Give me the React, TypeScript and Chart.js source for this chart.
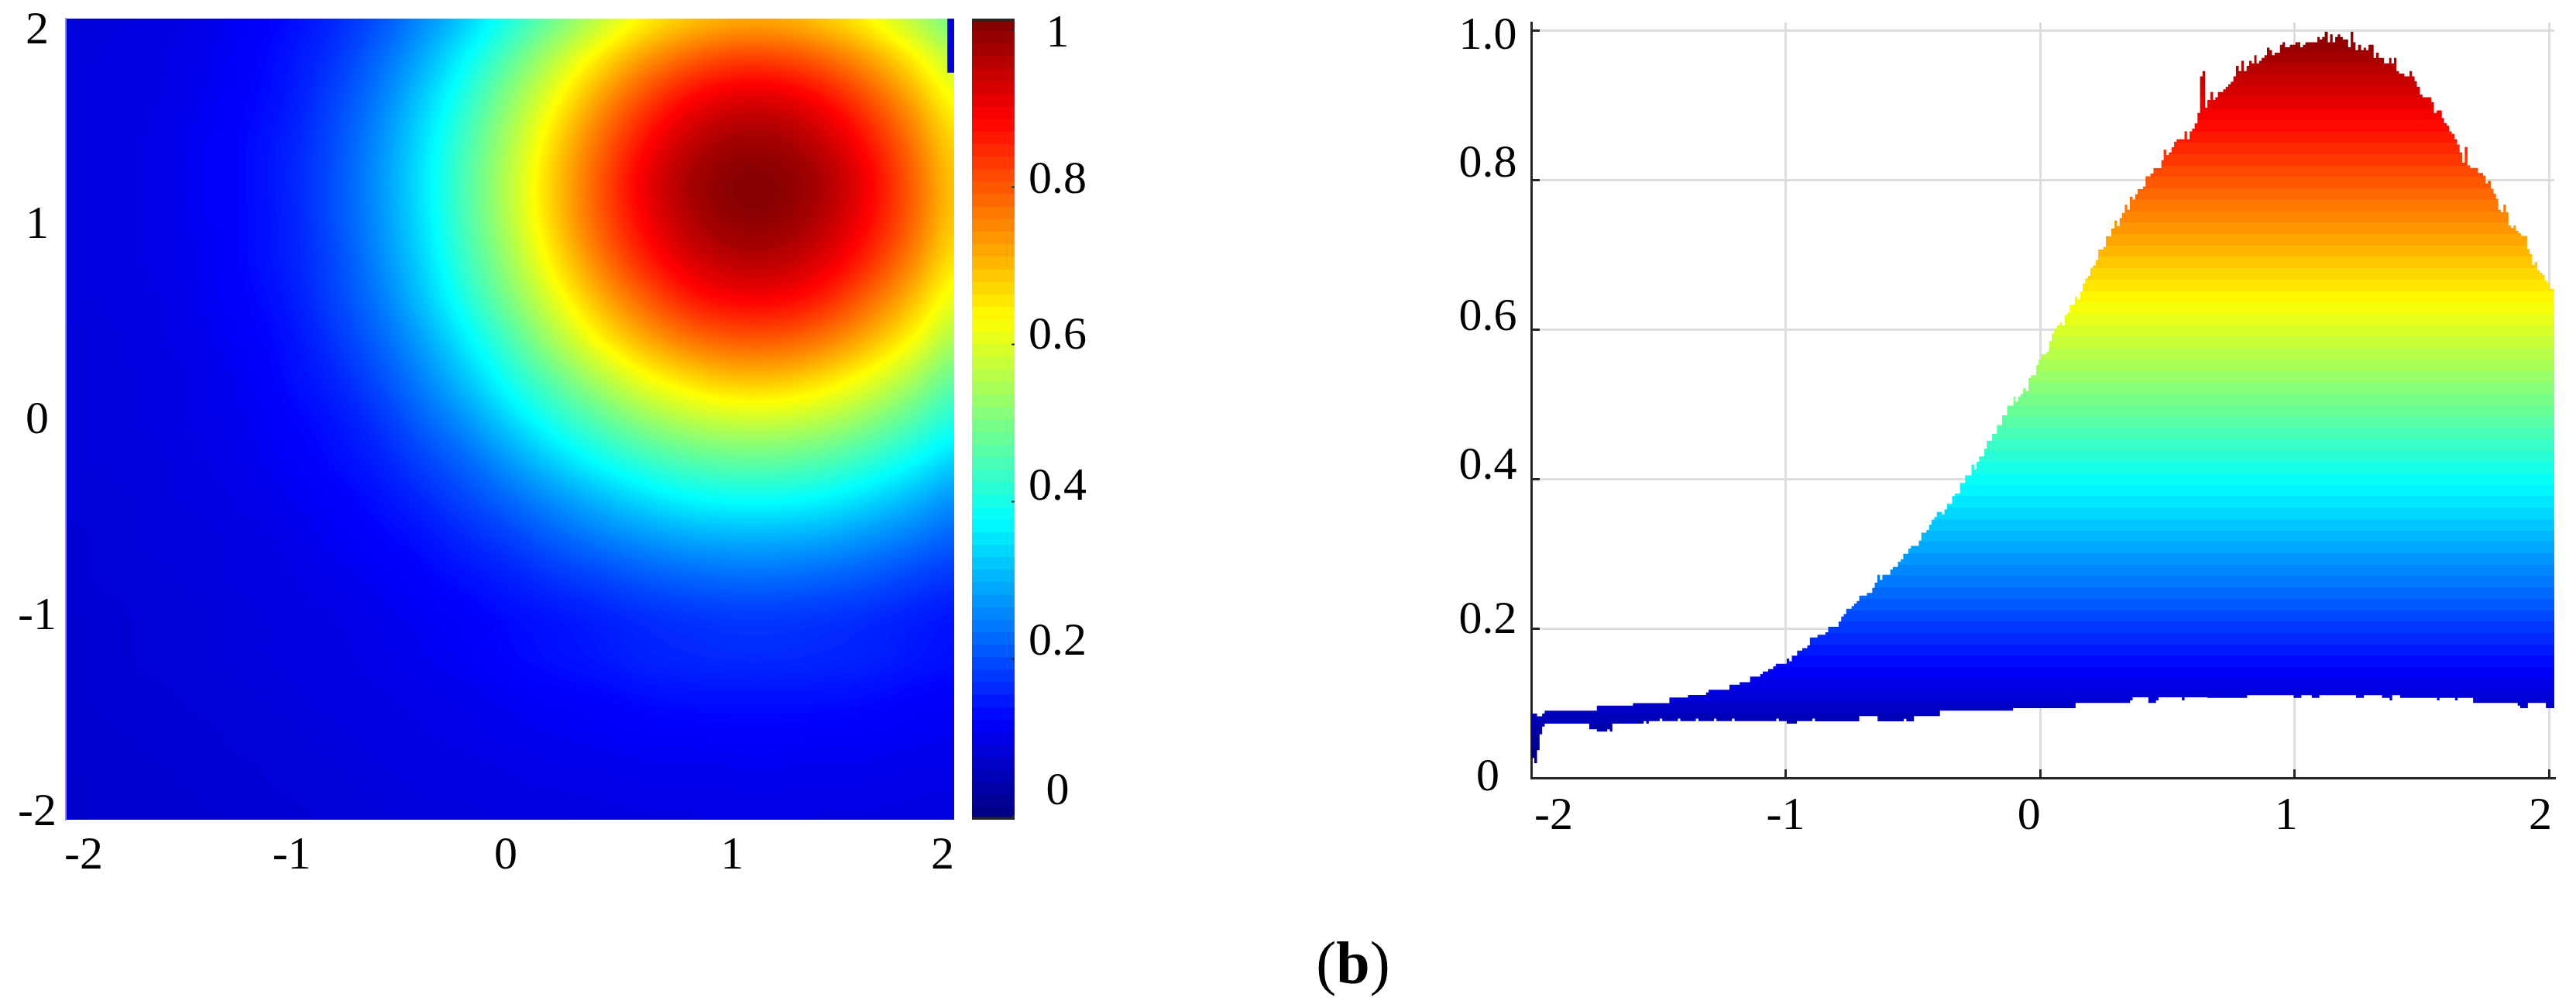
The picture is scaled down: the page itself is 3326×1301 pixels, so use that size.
import { useEffect, useRef } from "react";
import { Chart, ChartConfiguration } from "chart.js/auto";

// left panel: values, columns u = -2..2, rows v = 2..-2, step 0.2
const heatU = [-2, -1.8, -1.6, -1.4, -1.2, -1, -0.8, -0.6, -0.4, -0.2, 0, 0.2, 0.4, 0.6, 0.8, 1, 1.2, 1.4, 1.6, 1.8, 2];
const heatV = [2, 1.8, 1.6, 1.4, 1.2, 1, 0.8, 0.6, 0.4, 0.2, 0, -0.2, -0.4, -0.6, -0.8, -1, -1.2, -1.4, -1.6, -1.8, -2];
const heatValues = [
  [0.088, 0.092, 0.096, 0.103, 0.116, 0.133, 0.159, 0.2, 0.257, 0.326, 0.405, 0.484, 0.56, 0.63, 0.68, 0.704, 0.704, 0.68, 0.63, 0.56, 0.484],
  [0.089, 0.093, 0.098, 0.106, 0.121, 0.14, 0.173, 0.224, 0.291, 0.374, 0.462, 0.555, 0.647, 0.724, 0.781, 0.81, 0.81, 0.781, 0.724, 0.647, 0.555],
  [0.089, 0.094, 0.099, 0.11, 0.126, 0.144, 0.187, 0.245, 0.32, 0.412, 0.512, 0.616, 0.717, 0.804, 0.87, 0.904, 0.904, 0.87, 0.804, 0.717, 0.616],
  [0.09, 0.095, 0.1, 0.113, 0.129, 0.153, 0.196, 0.259, 0.34, 0.438, 0.545, 0.66, 0.766, 0.86, 0.929, 0.966, 0.966, 0.929, 0.86, 0.766, 0.66],
  [0.09, 0.095, 0.101, 0.112, 0.13, 0.155, 0.2, 0.265, 0.35, 0.45, 0.559, 0.679, 0.789, 0.889, 0.959, 0.994, 0.994, 0.959, 0.889, 0.789, 0.679],
  [0.09, 0.095, 0.101, 0.112, 0.13, 0.154, 0.199, 0.263, 0.347, 0.447, 0.556, 0.675, 0.783, 0.88, 0.95, 0.985, 0.985, 0.95, 0.88, 0.783, 0.675],
  [0.09, 0.094, 0.1, 0.111, 0.128, 0.151, 0.192, 0.254, 0.334, 0.43, 0.535, 0.646, 0.751, 0.842, 0.91, 0.946, 0.946, 0.91, 0.842, 0.751, 0.646],
  [0.089, 0.094, 0.099, 0.108, 0.124, 0.146, 0.19, 0.24, 0.312, 0.402, 0.498, 0.6, 0.699, 0.782, 0.846, 0.88, 0.88, 0.846, 0.782, 0.699, 0.6],
  [0.088, 0.092, 0.097, 0.105, 0.12, 0.139, 0.171, 0.219, 0.284, 0.362, 0.447, 0.54, 0.63, 0.705, 0.76, 0.789, 0.789, 0.76, 0.705, 0.63, 0.54],
  [0.088, 0.092, 0.096, 0.103, 0.115, 0.132, 0.156, 0.196, 0.251, 0.318, 0.395, 0.472, 0.546, 0.613, 0.659, 0.688, 0.688, 0.659, 0.613, 0.546, 0.472],
  [0.087, 0.09, 0.095, 0.1, 0.11, 0.124, 0.143, 0.174, 0.218, 0.272, 0.336, 0.403, 0.464, 0.518, 0.557, 0.578, 0.578, 0.557, 0.518, 0.464, 0.403],
  [0.086, 0.089, 0.092, 0.097, 0.104, 0.117, 0.132, 0.153, 0.187, 0.229, 0.279, 0.332, 0.383, 0.427, 0.458, 0.475, 0.475, 0.458, 0.427, 0.383, 0.332],
  [0.085, 0.087, 0.091, 0.095, 0.1, 0.11, 0.121, 0.137, 0.16, 0.191, 0.228, 0.268, 0.306, 0.341, 0.367, 0.381, 0.381, 0.367, 0.341, 0.306, 0.268],
  [0.083, 0.086, 0.089, 0.092, 0.096, 0.103, 0.113, 0.125, 0.139, 0.159, 0.185, 0.214, 0.242, 0.267, 0.286, 0.296, 0.296, 0.286, 0.267, 0.242, 0.214],
  [0.082, 0.085, 0.087, 0.09, 0.094, 0.098, 0.104, 0.114, 0.125, 0.137, 0.153, 0.171, 0.19, 0.208, 0.221, 0.227, 0.227, 0.221, 0.208, 0.19, 0.171],
  [0.08, 0.083, 0.085, 0.088, 0.091, 0.095, 0.099, 0.104, 0.113, 0.122, 0.133, 0.142, 0.153, 0.165, 0.172, 0.177, 0.177, 0.172, 0.165, 0.153, 0.142],
  [0.08, 0.083, 0.085, 0.088, 0.09, 0.094, 0.097, 0.103, 0.109, 0.118, 0.128, 0.137, 0.146, 0.155, 0.162, 0.166, 0.166, 0.162, 0.155, 0.146, 0.137],
  [0.078, 0.081, 0.084, 0.086, 0.088, 0.091, 0.094, 0.097, 0.102, 0.107, 0.114, 0.12, 0.127, 0.133, 0.136, 0.138, 0.138, 0.136, 0.133, 0.127, 0.12],
  [0.077, 0.079, 0.082, 0.084, 0.086, 0.088, 0.091, 0.094, 0.097, 0.1, 0.104, 0.108, 0.113, 0.117, 0.119, 0.12, 0.12, 0.119, 0.117, 0.113, 0.108],
  [0.076, 0.078, 0.08, 0.082, 0.084, 0.086, 0.088, 0.09, 0.093, 0.095, 0.097, 0.1, 0.103, 0.104, 0.106, 0.107, 0.107, 0.106, 0.104, 0.103, 0.1],
  [0.075, 0.077, 0.078, 0.08, 0.082, 0.084, 0.086, 0.088, 0.09, 0.092, 0.093, 0.095, 0.097, 0.098, 0.099, 0.1, 0.1, 0.099, 0.098, 0.097, 0.095],
];
const notchU = [1.985, 1.985];
const notchV = [2.05, 1.73];

// right panel: upper and lower edge of the profile, each y holds up to its x
const highX = [
  -2, -1.977, -1.957, -1.947, -1.742, -1.6, -1.457, -1.384, -1.313, -1.303, -1.221, -1.181, -1.14, -1.1, -1.09, -1.069,
  -1.049, -1.039, -0.996, -0.986, -0.976, -0.955, -0.935, -0.915, -0.905, -0.875, -0.844, -0.833, -0.792, -0.782, -0.772,
  -0.762, -0.741, -0.731, -0.721, -0.711, -0.681, -0.66, -0.65, -0.64, -0.63, -0.62, -0.589, -0.579, -0.559, -0.548, -0.538,
  -0.518, -0.508, -0.477, -0.467, -0.447, -0.437, -0.427, -0.416, -0.406, -0.386, -0.376, -0.366, -0.346, -0.335, -0.315,
  -0.295, -0.27, -0.26, -0.25, -0.24, -0.22, -0.21, -0.189, -0.17, -0.15, -0.13, -0.105, -0.097, -0.087, -0.077, -0.067,
  -0.056, -0.046, -0.036, -0.016, -0.006, 0.005, 0.025, 0.035, 0.045, 0.055, 0.065, 0.076, 0.086, 0.096, 0.106, 0.116, 0.136,
  0.147, 0.157, 0.167, 0.177, 0.187, 0.197, 0.207, 0.218, 0.228, 0.248, 0.258, 0.279, 0.292, 0.302, 0.312, 0.322, 0.332,
  0.342, 0.352, 0.363, 0.373, 0.383, 0.404, 0.414, 0.433, 0.445, 0.476, 0.485, 0.495, 0.505, 0.516, 0.526, 0.536, 0.567,
  0.577, 0.587, 0.597, 0.607, 0.618, 0.628, 0.638, 0.648, 0.657, 0.669, 0.679, 0.688, 0.698, 0.719, 0.729, 0.739, 0.749,
  0.759, 0.769, 0.78, 0.79, 0.8, 0.811, 0.821, 0.831, 0.841, 0.85, 0.86, 0.87, 0.881, 0.891, 0.901, 0.911, 0.921, 0.942,
  0.952, 0.962, 0.981, 1.003, 1.022, 1.032, 1.042, 1.089, 1.098, 1.108, 1.118, 1.13, 1.139, 1.149, 1.159, 1.169, 1.179,
  1.189, 1.21, 1.22, 1.23, 1.239, 1.249, 1.261, 1.271, 1.28, 1.29, 1.31, 1.32, 1.33, 1.351, 1.371, 1.38, 1.39, 1.4, 1.41,
  1.431, 1.451, 1.461, 1.471, 1.48, 1.492, 1.502, 1.537, 1.547, 1.558, 1.578, 1.587, 1.597, 1.607, 1.617, 1.628, 1.638,
  1.648, 1.658, 1.668, 1.679, 1.689, 1.72, 1.74, 1.75, 1.759, 1.771, 1.781, 1.791, 1.8, 1.81, 1.82, 1.83, 1.84, 1.85, 1.86,
  1.869, 1.879, 1.889, 1.913, 1.923, 1.933, 1.943, 1.953, 1.962, 1.972, 1.982, 1.992, 2.002, 2.02,
];
const highY = [
  0.086, 0.086, 0.0825, 0.086, 0.0898, 0.0967, 0.1001, 0.1074, 0.1109, 0.1143, 0.1178, 0.1247, 0.1281, 0.1354, 0.1388, 0.1423,
  0.1457, 0.1492, 0.1527, 0.1596, 0.156, 0.1634, 0.1703, 0.1737, 0.1772, 0.1879, 0.1914, 0.1948, 0.2021, 0.209, 0.2159,
  0.2193, 0.2262, 0.2297, 0.2332, 0.2366, 0.2439, 0.2473, 0.2542, 0.2611, 0.2718, 0.2649, 0.2718, 0.2788, 0.2822, 0.2891, 0.2926,
  0.2998, 0.3067, 0.3105, 0.3174, 0.3281, 0.3316, 0.3385, 0.3454, 0.3489, 0.3558, 0.3523, 0.3592, 0.3665, 0.3769, 0.3803,
  0.3945, 0.4048, 0.4193, 0.4124, 0.4228, 0.43, 0.4404, 0.4508, 0.46, 0.472, 0.485, 0.498, 0.5102, 0.5033, 0.5102, 0.5136,
  0.5209, 0.5174, 0.5347, 0.5385, 0.5523, 0.5596, 0.5665, 0.5699, 0.5841, 0.5944, 0.6014, 0.6052, 0.6086, 0.6052, 0.619, 0.6224, 0.6328,
  0.6435, 0.64, 0.6504, 0.6611, 0.668, 0.6715, 0.6818, 0.6853, 0.6925, 0.7067, 0.7102, 0.7243, 0.7347, 0.7454, 0.7382, 0.7489, 0.7558,
  0.7665, 0.7599, 0.7772, 0.7737, 0.7806, 0.7875, 0.791, 0.8048, 0.8083, 0.8155, 0.8262, 0.8401, 0.8331, 0.8366, 0.8435, 0.8508, 0.8542,
  0.8649, 0.8542, 0.8649, 0.8684, 0.8753, 0.8895, 0.9385, 0.9454, 0.8964, 0.9067, 0.9174, 0.9067, 0.9105, 0.9174, 0.9209, 0.9243, 0.9278,
  0.9312, 0.9385, 0.9523, 0.9454, 0.9592, 0.9454, 0.9523, 0.9592, 0.9558, 0.9665, 0.9558, 0.9592, 0.963, 0.9665, 0.9768, 0.9734, 0.9665, 0.97,
  0.9806, 0.9841, 0.9772, 0.9806, 0.9841, 0.9772, 0.9806, 0.9841, 0.991, 0.9875, 0.991, 0.9979, 0.9841, 0.9945, 0.9841, 0.991, 0.9945,
  0.991, 0.9875, 0.9772, 0.9979, 0.9841, 0.9734, 0.9806, 0.9734, 0.9768, 0.9734, 0.9806, 0.963, 0.97, 0.963, 0.9558, 0.963, 0.9558, 0.963, 0.9454,
  0.942, 0.9385, 0.9454, 0.9385, 0.9316, 0.9243, 0.914, 0.9105, 0.9036, 0.8895, 0.8929, 0.8825, 0.8756, 0.8722, 0.8649, 0.8615, 0.8542,
  0.8473, 0.8366, 0.8228, 0.8439, 0.8193, 0.8159, 0.809, 0.8055, 0.7951, 0.7986, 0.7882, 0.7813, 0.7744, 0.7599, 0.7565, 0.7668, 0.7565, 0.7388, 0.7354,
  0.7388, 0.7319, 0.7285, 0.725, 0.7074, 0.7002, 0.6863, 0.6898, 0.6794, 0.676, 0.6725, 0.6656, 0.6622, 0.6542,
];
const lowX = [
  -2, -1.988, -1.977, -1.967, -1.957, -1.947, -1.772, -1.742, -1.701, -1.691, -1.681, -1.558, -1.548, -1.538, -1.495, -1.485,
  -1.424, -1.414, -1.353, -1.343, -1.282, -1.272, -1.211, -1.201, -1.037, -1.027, -0.996, -0.956, -0.895, -0.885, -0.711,
  -0.639, -0.536, -0.526, -0.496, -0.394, -0.107, 0.139, 0.353, 0.363, 0.425, 0.455, 0.465, 0.557, 0.567, 0.656, 0.813, 0.996,
  1.026, 1.067, 1.097, 1.241, 1.272, 1.343, 1.373, 1.383, 1.414, 1.559, 1.569, 1.63, 1.64, 1.701, 1.876, 1.886, 1.916, 1.987, 2.02,
];
const lowY = [
  0.0266, 0.0266, 0.0197, 0.037, 0.0583, 0.0687, 0.0725, 0.065, 0.0618, 0.065, 0.0618, 0.0725, 0.076, 0.0725, 0.076, 0.0794,
  0.076, 0.0794, 0.076, 0.0794, 0.076, 0.0794, 0.076, 0.0794, 0.076, 0.0794, 0.076, 0.0725, 0.076, 0.0794, 0.0757,
  0.0826, 0.0757, 0.0791, 0.0757, 0.0826, 0.0898, 0.0933, 0.1002, 0.1037, 0.1078, 0.1002, 0.1037, 0.1078, 0.1037, 0.1078, 0.1071, 0.1105,
  0.1071, 0.1105, 0.1071, 0.1105, 0.1071, 0.1105, 0.1071, 0.1036, 0.1105, 0.1071, 0.1036, 0.1071, 0.1036, 0.1071, 0.1002, 0.0967, 0.0933, 0.1002, 0.0933,
];

const axisTicks = [-2, -1, 0, 1, 2];
const axisLabels = ["-2", "-1", "0", "1", "2"];
const fractionLabels = ["0", "0.2", "0.4", "0.6", "0.8", "1"];
const profileLabels = ["0", "0.2", "0.4", "0.6", "0.8", "1.0"];
const fractionTicks = [0, 0.2, 0.4, 0.6, 0.8, 1];

const font = { family: "'Liberation Serif'", size: 60, lineHeight: 1 };
const darkLine = "#262626";
const gridLine = "#dddddd";

const clamp = (v: number) => Math.max(0, Math.min(1, v));
function jet(t: number): [number, number, number] {
  return [
    Math.round(255 * clamp(1.5 - Math.abs(4 * t - 3))),
    Math.round(255 * clamp(1.5 - Math.abs(4 * t - 2))),
    Math.round(255 * clamp(1.5 - Math.abs(4 * t - 1))),
  ];
}
const jetCss = (t: number) => `rgb(${jet(t).join(",")})`;

// axis that only carries text, its labels sit a little off the real ticks in the figure
function labelAxis(positions: number[], labels: string[], min: number, max: number, position: string, size: number, padding: number) {
  return {
    type: "linear",
    position,
    min,
    max,
    grid: { display: false, drawTicks: false },
    border: { display: false },
    afterBuildTicks: (s: any) => {
      s.ticks = positions.map((value) => ({ value }));
    },
    afterFit: (s: any) => {
      if (s.isHorizontal()) s.height = size;
      else s.width = size;
      s.paddingLeft = s.paddingRight = s.paddingTop = s.paddingBottom = 0;
    },
    ticks: {
      autoSkip: false,
      maxRotation: 0,
      minRotation: 0,
      crossAlign: "center",
      padding,
      color: "#000",
      font,
      callback: (_v: number, i: number) => labels[i],
    },
  };
}

// axis that holds the data and the short inward ticks, no text and no room of its own
function dataAxis(values: number[], min: number, max: number, position: string, marks: boolean) {
  return {
    type: "linear",
    position,
    min,
    max,
    afterBuildTicks: (s: any) => {
      s.ticks = values.map((value) => ({ value }));
    },
    afterFit: (s: any) => {
      if (s.isHorizontal()) s.height = 0;
      else s.width = 0;
      s.paddingLeft = s.paddingRight = s.paddingTop = s.paddingBottom = 0;
    },
    ticks: { display: false },
    border: marks ? { color: darkLine, width: 3 } : { display: false },
    grid: marks
      ? { color: gridLine, lineWidth: 3, tickLength: -11, tickColor: darkLine, tickWidth: 3 }
      : { display: false },
  };
}

// paints heatValues in the chart area, the grid is enlarged by the canvas and coloured after
const heatPlugin = {
  id: "heat",
  beforeDatasetsDraw(chart: Chart) {
    const { x, y } = chart.scales;
    const left = Math.round(x.getPixelForValue(heatU[0]));
    const right = Math.round(x.getPixelForValue(heatU[heatU.length - 1]));
    const top = Math.round(y.getPixelForValue(heatV[0]));
    const bottom = Math.round(y.getPixelForValue(heatV[heatV.length - 1]));
    const w = right - left;
    const h = bottom - top;

    const small = document.createElement("canvas");
    small.width = heatU.length;
    small.height = heatV.length;
    const sctx = small.getContext("2d")!;
    const cells = sctx.createImageData(small.width, small.height);
    heatValues.forEach((row, j) =>
      row.forEach((v, i) => {
        const g = Math.round(v * 255);
        const k = (j * small.width + i) * 4;
        cells.data[k] = cells.data[k + 1] = cells.data[k + 2] = g;
        cells.data[k + 3] = 255;
      }),
    );
    sctx.putImageData(cells, 0, 0);

    const big = document.createElement("canvas");
    big.width = w;
    big.height = h;
    const bctx = big.getContext("2d")!;
    bctx.imageSmoothingEnabled = true;
    bctx.imageSmoothingQuality = "high";
    bctx.drawImage(small, 0.5, 0.5, small.width - 1, small.height - 1, 0, 0, w, h);
    const img = bctx.getImageData(0, 0, w, h);
    for (let k = 0; k < img.data.length; k += 4) {
      const c = jet(img.data[k] / 255);
      img.data[k] = c[0];
      img.data[k + 1] = c[1];
      img.data[k + 2] = c[2];
    }
    chart.ctx.putImageData(img, left, top);
  },
};

const barMin = -0.004;
const barMax = 1.014;
const barLevels = Array.from({ length: 64 }, (_, k) => k);

const heatConfig = {
  type: "line",
  data: {
    datasets: [
      {
        data: notchU.map((x, i) => ({ x, y: notchV[i] })),
        borderColor: "#0000d8",
        borderWidth: 9,
        pointRadius: 0,
      },
    ],
  },
  plugins: [heatPlugin],
  options: {
    animation: false,
    responsive: false,
    devicePixelRatio: 1,
    layout: { padding: { top: 24, right: 8 } },
    plugins: { legend: { display: false }, tooltip: { enabled: false } },
    scales: {
      x: dataAxis(axisTicks, -2, 2, "bottom", false),
      xl: labelAxis([-1.92, -0.983, -0.019, 1.0, 1.948], axisLabels, -2, 2, "bottom", 82, 47),
      y: { ...dataAxis(axisTicks, -2, 2, "left", false), border: { color: "#8a8aff", width: 2, z: 1 } },
      yl: labelAxis([-1.965, -0.987, -0.008, 0.967, 1.938], axisLabels, -2, 2, "left", 85, 12),
    },
  },
};

const barConfig = {
  type: "bar",
  data: {
    labels: ["scale"],
    datasets: [
      // each step runs to the top and the next one paints over it, so no seams show
      ...barLevels.map((k) => ({
        data: [[barMin + (k * (barMax - barMin)) / 64, barMax]],
        backgroundColor: jetCss((k + 0.5) / 64),
        grouped: false,
        order: -k,
        barPercentage: 1,
        categoryPercentage: 1,
      })),
      ...[
        [barMin, barMin + 0.003],
        [barMax - 0.003, barMax],
      ].map((cap) => ({
        data: [cap],
        backgroundColor: darkLine,
        grouped: false,
        order: -100,
        barPercentage: 1,
        categoryPercentage: 1,
      })),
    ],
  },
  options: {
    animation: false,
    responsive: false,
    devicePixelRatio: 1,
    layout: { padding: { top: 24, left: 15 } },
    plugins: { legend: { display: false }, tooltip: { enabled: false } },
    scales: {
      x: {
        display: true,
        afterFit: (s: any) => {
          s.height = 82;
          s.paddingLeft = s.paddingRight = 0;
        },
        ticks: { display: false },
        grid: { display: false },
        border: { display: false },
      },
      y: {
        ...dataAxis(fractionTicks, barMin, barMax, "right", false),
        grid: { display: true, drawOnChartArea: false, tickLength: -4, tickColor: darkLine, tickWidth: 2, z: 1 },
      },
      yl: labelAxis([0.031, 0.221, 0.418, 0.61, 0.808, 0.994], fractionLabels, barMin, barMax, "right", 110, 18),
    },
  },
};

const profileMinX = -2;
const profileMaxX = 2.02;
const profileMaxY = 1.0104;

// same 64 colour steps as the colour bar, running up the value axis
function profileFill(ctx: any) {
  const { chart } = ctx;
  const y = chart.scales.y;
  const from = y ? y.getPixelForValue(0.026) : NaN;
  const to = y ? y.getPixelForValue(1.002) : NaN;
  // options also get resolved before the first layout
  if (!Number.isFinite(from) || !Number.isFinite(to)) return "#0000ff";
  const g = chart.ctx.createLinearGradient(0, from, 0, to);
  barLevels.forEach((k) => {
    const c = jetCss((k + 0.5) / 64);
    g.addColorStop(k / 64, c);
    g.addColorStop((k + 1) / 64, c);
  });
  return g;
}

const profileConfig = {
  type: "line",
  data: {
    datasets: [
      {
        data: highX.map((x, i) => ({ x, y: highY[i] })),
        stepped: "after",
        fill: "+1",
        backgroundColor: profileFill,
        borderColor: "transparent",
        pointRadius: 0,
      },
      {
        data: lowX.map((x, i) => ({ x, y: lowY[i] })),
        stepped: "after",
        fill: false,
        borderColor: "transparent",
        pointRadius: 0,
      },
    ],
  },
  options: {
    animation: false,
    responsive: false,
    devicePixelRatio: 1,
    layout: { padding: { top: 29, right: 28 } },
    plugins: { legend: { display: false }, tooltip: { enabled: false } },
    scales: {
      x: dataAxis(axisTicks, profileMinX, profileMaxX, "bottom", true),
      xl: labelAxis([-1.912, -1.0, -0.044, 0.966, 1.965], axisLabels, profileMinX, profileMaxX, "bottom", 126, 50),
      y: dataAxis(fractionTicks, 0, profileMaxY, "left", true),
      yl: labelAxis([0, 0.21, 0.416, 0.615, 0.82, 0.991], profileLabels, 0, profileMaxY, "left", 117, 18.5),
    },
  },
};

function Panel({ left, width, height, config }: { left: number; width: number; height: number; config: any }) {
  const ref = useRef<HTMLCanvasElement>(null);

  useEffect(() => {
    if (!ref.current) return;
    const chart = new Chart(ref.current, config as ChartConfiguration);
    return () => chart.destroy();
  }, [config]);

  return <canvas ref={ref} width={width} height={height} style={{ position: "absolute", left, top: 0 }} />;
}

export default function App() {
  return (
    <div style={{ position: "absolute", left: 0, top: 0, width: 3326, height: 1301, background: "#fff", overflow: "hidden" }}>
      <Panel left={0} width={1240} height={1140} config={heatConfig} />
      <Panel left={1240} width={180} height={1140} config={barConfig} />
      <Panel left={1860} width={1466} height={1130} config={profileConfig} />
      <div
        style={{
          position: "absolute",
          left: 1647,
          width: 200,
          top: 1197,
          textAlign: "center",
          fontFamily: "'Liberation Serif'",
          fontSize: 78,
          lineHeight: "92px",
          color: "#000",
        }}
      >
        (<b>b</b>)
      </div>
    </div>
  );
}
